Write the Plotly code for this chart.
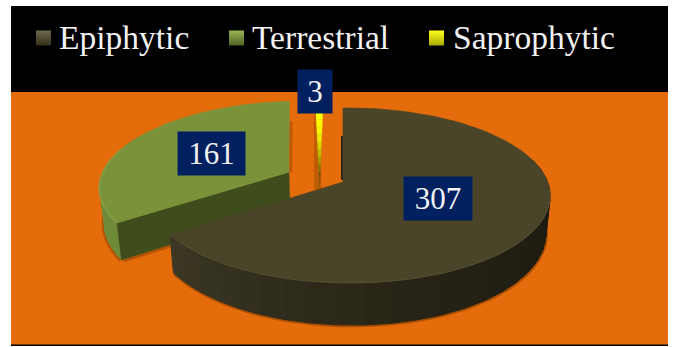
import numpy as np
import plotly.graph_objects as go

# ---- chart data ----
categories = ["Epiphytic", "Terrestrial", "Saprophytic"]
values = [307, 161, 3]
top_colors = ["#4a4528", "#7a933b", "#ffff00"]
label_boxes = ["#002060", "#002060", "#002060"]

# ---- projection of the tilted disc onto the page ----
CX, CY = 343.0, 182.0
R, RY = 198.4, 85.4
PERSP, SKEW, DEPTH = 0.154, 0.03, 35.6
OFFSETS = [(0.0, 0.0), (-0.28, 0.118), (-0.117, -0.06)]


def proj(u, v, low=False):
    u, v = np.asarray(u, float), np.asarray(v, float)
    s = 1.0 / (1.0 + PERSP * v - SKEW * u)
    x = CX + R * u * s * (0.98 if low else 1.0)
    y = CY - (RY * v - (DEPTH if low else 0.0)) * s
    return x, y


def arc(a0, a1, off, low=False, n=60):
    t = np.radians(np.linspace(a0, a1, n))
    return proj(np.sin(t) + off[0], np.cos(t) + off[1], low)


def mix(c1, c2, f):
    a = [int(c1[i:i + 2], 16) for i in (1, 3, 5)]
    b = [int(c2[i:i + 2], 16) for i in (1, 3, 5)]
    return "#%02x%02x%02x" % tuple(round(p + (q - p) * f) for p, q in zip(a, b))


fig = go.Figure()


def poly(x, y, color, lw=0.6):
    fig.add_trace(go.Scatter(x=list(x), y=list(y), mode="lines", fill="toself",
                             fillcolor=color, line=dict(color=color, width=lw),
                             hoverinfo="skip", showlegend=False))


def line(x, y, color, w):
    fig.add_trace(go.Scatter(x=list(x), y=list(y), mode="lines",
                             line=dict(color=color, width=w),
                             hoverinfo="skip", showlegend=False))


def wall(a0, a1, off, c0, c1, nseg, power=1.0):
    edges = np.linspace(a0, a1, nseg + 1)
    for i in range(nseg):
        tx, ty = arc(edges[i], edges[i + 1], off, n=8)
        bx, by = arc(edges[i], edges[i + 1], off, low=True, n=8)
        poly(np.r_[tx, bx[::-1], tx[0]], np.r_[ty, by[::-1], ty[0]],
             mix(c0, c1, (i / max(nseg - 1, 1)) ** power), 1.0)


def top_face(a0, a1, off, color):
    ax, ay = arc(a0, a1, off, n=120)
    px, py = proj(off[0], off[1])
    poly(np.r_[px, ax, px], np.r_[py, ay, py], color)


total = sum(values)
ang = np.cumsum([0] + [v / total * 360 for v in values])

# ---- Saprophytic sliver (back) ----
a0, a1 = ang[2], ang[3]
off = OFFSETS[2]
px, py = proj(off[0], off[1])
ax, ay = arc(a0, a1, off, n=6)
line([px - 2, (ax[0] + ax[-1]) / 2 - 2], [py + 2, (ay[0] + ay[-1]) / 2], "rgba(125,60,0,0.35)", 7)
for i in range(10):
    f0, f1 = i / 10, (i + 1) / 10
    lx = ax[0] + (px - ax[0]) * np.array([f0, f1])
    ly = ay[0] + (py - ay[0]) * np.array([f0, f1])
    rx = ax[-1] + (px - ax[-1]) * np.array([f0, f1])
    ry = ay[-1] + (py - ay[-1]) * np.array([f0, f1])
    poly(np.r_[lx, rx[::-1], lx[0]], np.r_[ly, ry[::-1], ly[0]],
         mix(top_colors[2], "#5c5200", min(1, (f0 / 0.8) ** 2)), 0.3)

# ---- Terrestrial ----
a0, a1 = ang[1], ang[2]
off = OFFSETS[1]
sx, sy = arc(a0, 300, off, low=True)
line(sx - 1, sy + 0.8, "rgba(125,55,0,0.45)", 3)
wall(a0, 300, off, "#6f8a38", "#6f8a38", 4)
px, py = proj(off[0], off[1])
pxl, pyl = proj(off[0], off[1], low=True)
cx, cy = arc(a0, a0, off, n=1)
cxl, cyl = arc(a0, a0, off, low=True, n=1)
line([pxl + 1, cxl[0] + 2], [pyl + 1, cyl[0] + 1], "rgba(125,55,0,0.45)", 3)
poly([px, cx[0], cxl[0], pxl, px], [py, cy[0], cyl[0], pyl, py], "#3f4d1c")
top_face(a0, a1, off, top_colors[1])
rx, ry = arc(a0, a1 - 70, off)
line(rx, ry, "#8aa34a", 1.2)
ex, ey = arc(a1, a1, off, n=1)
line([px + 1.8, ex[0] + 1.8], [py, ey[0] + 20], "rgba(125,55,0,0.35)", 3)

# ---- Epiphytic (front) ----
a0, a1 = ang[0], ang[1]
off = OFFSETS[0]
sx, sy = arc(75, a1, off, low=True)
line(sx + 0.5, sy + 0.7, "rgba(125,55,0,0.55)", 3)
wall(75, a1, off, "#1c1a10", "#3c3724", 24, power=1.8)
px, py = proj(0, 0)
tx, ty = arc(a0, a0, off, n=1)
line([px - 1, tx[0] - 1], [py - 2, ty[0] + 28], "#2a2616", 2)
top_face(a0, a1, off, top_colors[0])
rx, ry = arc(95, a1, off)
line(rx, ry, "#544e30", 1)

# ---- legend swatches, drawn as real markers ----
swatch_x = [43.5, 236.5, 436.5]
text_x = [57, 250, 451]
swatch_top = ["#6f6a4c", "#9ab655", "#ffff20"]
swatch_bot = ["#35301b", "#4f6125", "#a8a800"]
for sxx, c, e, name in zip(swatch_x, swatch_top, swatch_bot, categories):
    fig.add_trace(go.Scatter(x=[sxx], y=[38], mode="markers", name=name,
                             marker=dict(symbol="square", size=15, color=c,
                                         gradient=dict(type="vertical", color=e),
                                         line=dict(width=0)),
                             hoverinfo="skip", showlegend=False))

annots = []
for tx_, name in zip(text_x, categories):
    annots.append(dict(x=tx_, y=37, text=name, showarrow=False, xanchor="left", yanchor="middle",
                       font=dict(family="Liberation Serif", size=33.5, color="#f2f2f2")))

# ---- value labels ----
label_x = [438, 211.5, 315]
label_y = [198.5, 153, 91]
label_w = [68, 67, 34]
for lx_, ly_, w_, v, b in zip(label_x, label_y, label_w, values, label_boxes):
    annots.append(dict(x=lx_, y=ly_, text=str(v), showarrow=False, xanchor="center", yanchor="middle",
                       width=w_, height=43, bgcolor=b, borderpad=0, align="center", valign="middle",
                       font=dict(family="Liberation Serif", size=31, color="#f2f2f2")))

fig.update_layout(
    width=674, height=347, margin=dict(l=0, r=0, t=0, b=0),
    paper_bgcolor="white", plot_bgcolor="white", showlegend=False,
    xaxis=dict(range=[0, 674], visible=False, fixedrange=True),
    yaxis=dict(range=[347, 0], visible=False, fixedrange=True),
    annotations=annots,
    shapes=[
        dict(type="rect", layer="below", x0=11, x1=668, y0=6, y1=346, fillcolor="black", line_width=0),
        dict(type="rect", layer="below", x0=11, x1=668, y0=92, y1=344.5, fillcolor="#e46c0a", line_width=0),
    ],
)
fig.write_html("out.html", config={"displayModeBar": False},
               post_script="document.body.style.margin='0';")
